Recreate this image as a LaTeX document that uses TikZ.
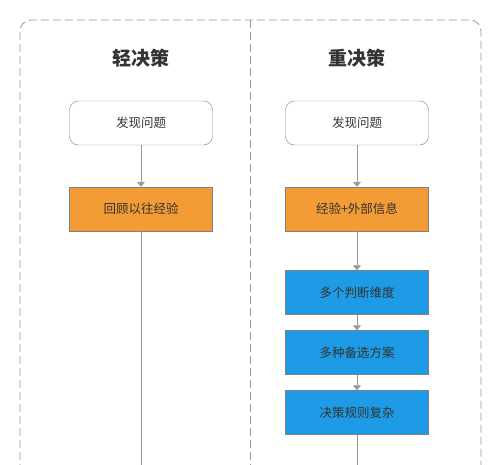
\documentclass[tikz,border=0pt]{standalone}
\usepackage{fontspec}
\setmainfont{Noto Sans CJK SC}
\usetikzlibrary{arrows.meta}
\definecolor{boxorange}{HTML}{F39B35}
\definecolor{boxblue}{HTML}{1E9BE6}
\definecolor{linegray}{HTML}{999999}
\definecolor{textgray}{HTML}{333333}
\begin{document}
\begin{tikzpicture}[x=1pt, y=-1pt,
            stepbox/.style={draw=gray, minimum width=143pt, minimum height=44pt, inner sep=0pt, font=\fontsize{12.5}{15}\selectfont, text=textgray},
            startbox/.style={stepbox, rounded corners=9pt, fill=white},
            orangebox/.style={stepbox, fill=boxorange},
            bluebox/.style={stepbox, fill=boxblue},
            title/.style={font=\fontsize{19}{23}\selectfont\bfseries, text=textgray},
            flow/.style={draw=linegray, line width=0.9pt, -{Triangle[width=8pt,length=5pt]}}
            ]
            \useasboundingbox (0,0) rectangle (500,464);
            \clip (0,0) rectangle (500,464);
            \fill[white] (0,0) rectangle (500,464);

            % frame
            \draw[linegray, dashed, dash pattern=on 8pt off 4pt, line width=0.8pt, rounded corners=11pt]
                (20,520) -- (20,20) -- (481,20) -- (481,520);
            \draw[linegray, dashed, dash pattern=on 8pt off 4pt, line width=0.8pt] (250,20) -- (250,470);

            % light decisions
            \node[title] (lt) at (141,58) {轻决策};
            \node[startbox] (la) at (141,123) {发现问题};
            \node[orangebox] (lb) at (141,209) {回顾以往经验};
            \coordinate (lend) at (141,470);

            % heavy decisions
            \node[title] (ht) at (357,58) {重决策};
            \node[startbox] (ha) at (357,123) {发现问题};
            \node[orangebox] (hb) at (357,209) {经验+外部信息};
            \node[bluebox] (hc) at (357,292.5) {多个判断维度};
            \node[bluebox] (hd) at (357,352.5) {多种备选方案};
            \node[bluebox] (he) at (357,412.5) {决策规则复杂};
            \coordinate (hend) at (357,470);

            \draw[flow] (la)--(lb);
            \draw[linegray, line width=0.9pt] (lb)--(lend);
            \draw[flow] (ha)--(hb);
            \draw[flow] (hb)--(hc);
            \draw[flow] (hc)--(hd);
            \draw[flow] (hd)--(he);
            \draw[linegray, line width=0.9pt] (he)--(hend);

            \end{tikzpicture}
\end{document}
